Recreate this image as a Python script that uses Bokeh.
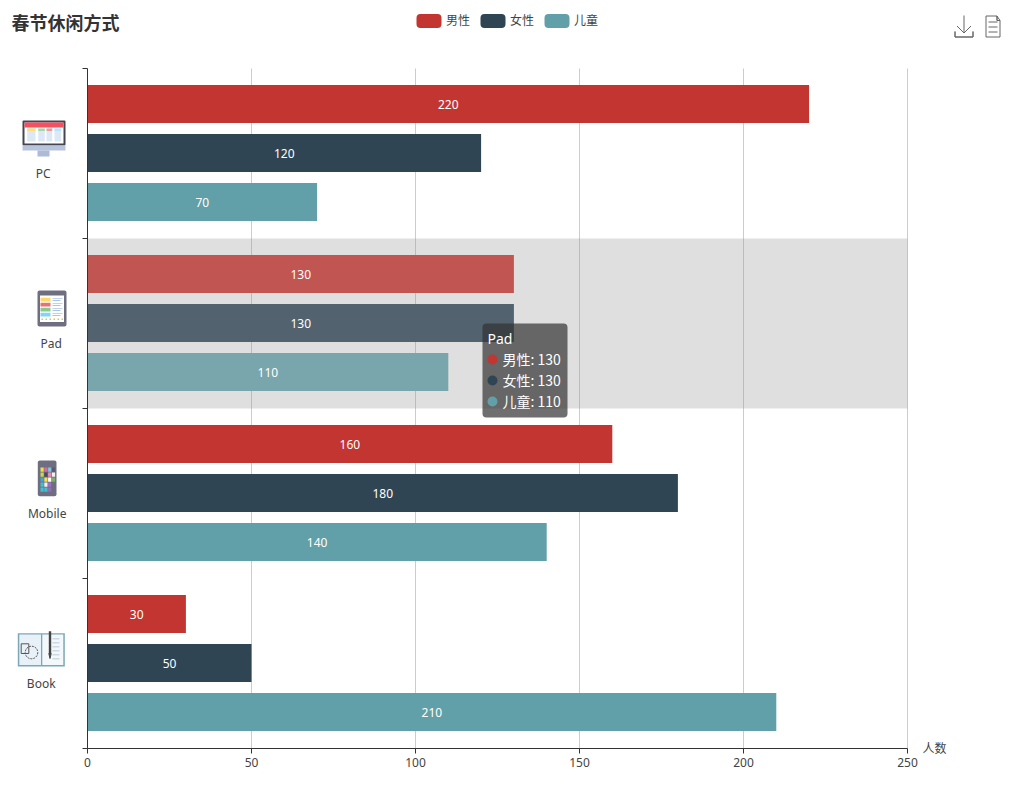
import numpy as np
from bokeh.plotting import figure
from bokeh.embed import file_html
from bokeh.resources import INLINE
from bokeh.core.properties import value
from bokeh.models import (Range1d, FixedTicker, Label, BoxAnnotation, PolyAnnotation,
                          Legend, LegendItem, ColumnDataSource)

# ---- data -------------------------------------------------------------
categories = ["PC", "Pad", "Mobile", "Book"]
male = [220, 130, 160, 30]
female = [120, 130, 180, 50]
child = [70, 110, 140, 210]
series_names = ["男性", "女性", "儿童"]
series_colors = ["#c23531", "#2f4554", "#61a0a8"]
hover_colors = ["#c15552", "#52626f", "#79a6ac"]
x_ticks = [0, 50, 100, 150, 200, 250]
title_text = "春节休闲方式"
axis_name = "人数"
hovered = "Pad"

FONT = "'Noto Sans CJK SC', 'Noto Sans', sans-serif"
LFONT = "'Noto Sans', 'Noto Sans CJK SC', sans-serif"

# page-pixel helpers for decoration; the frame fills the whole figure, axes are bounded to the data span
W, H = 1016, 780
FL, FT, FW, FH = 87, 68, 820, 680
def X(px): return (px - FL) / FW * 250
def Y(py): return 4 - (py - FT) / FH * 4

p = figure(width=W, height=H, x_range=Range1d(X(0), X(W)), y_range=Range1d(Y(H), Y(0)),
           min_border=0, output_backend="svg", toolbar_location=None, outline_line_color=None,
           background_fill_color="white", border_fill_color="white")

p.ygrid.visible = False
p.xgrid.visible = False
grid_src = ColumnDataSource(dict(x=x_ticks[1:], y0=[0] * 5, y1=[4] * 5))
p.segment(x0="x", x1="x", y0="y0", y1="y1", line_color="#cccccc", line_width=1, source=grid_src)

ax = p.xaxis[0]
ax.fixed_location = 0
ax.bounds = (0, 250)
ax.ticker = FixedTicker(ticks=x_ticks)
ax.major_tick_in = 0; ax.major_tick_out = 5; ax.minor_tick_out = 0; ax.minor_tick_in = 0
ax.axis_line_color = "#333333"; ax.major_tick_line_color = "#333333"
ax.major_label_text_color = "#444444"; ax.major_label_text_font_size = "12px"
ax.major_label_text_font = LFONT; ax.major_label_standoff = 4

ay = p.yaxis[0]
ay.fixed_location = 0
ay.bounds = (0, 4)
ay.ticker = FixedTicker(ticks=[0, 1, 2, 3, 4])
ay.major_tick_in = 0; ay.major_tick_out = 5; ay.minor_tick_out = 0; ay.minor_tick_in = 0
ay.axis_line_color = "#333333"; ay.major_tick_line_color = "#333333"
ay.major_label_overrides = {i: "" for i in range(5)}

# hover band
n = len(categories)
centers = [n - 0.5 - i for i in range(n)]
h_i = categories.index(hovered)
p.hbar(y=[centers[h_i]], left=[0], right=[250], height=1.0, fill_color="#969696",
       fill_alpha=0.3, line_color=None)

# bars
offsets = [49 / 170, 0, -49 / 170]
renderers = []
all_values = [male, female, child]
for vals, off, col, hcol in zip(all_values, offsets, series_colors, hover_colors):
    cols = [hcol if c == hovered else col for c in categories]
    src = ColumnDataSource(dict(y=[c + off for c in centers], yb=[c + off + 0.5 / 170 for c in centers],
                                v=vals, mid=[v / 2 for v in vals], col=cols, t=[str(v) for v in vals]))
    r = p.hbar(y="yb", left=0, right="v", height=38 / 170, fill_color="col", line_color=None, source=src)
    renderers.append(r)
    p.text(x="mid", y="y", text="t", text_color="white", text_font=value("Noto Sans"),
           text_font_size="12px", text_align="center", text_baseline="middle", source=src)

# legend
legend = Legend(items=[LegendItem(label=nm, renderers=[r]) for nm, r in zip(series_names, renderers)],
                orientation="horizontal", location=(416, H - 28),
                padding=0, margin=0, spacing=10, label_standoff=5,
                glyph_width=25, glyph_height=14, label_height=14, label_width=24,
                border_line_color=None, background_fill_alpha=0,
                label_text_font=FONT, label_text_font_size="12px", label_text_color="#444444",
                label_text_baseline="middle")
p.add_layout(legend, "center")

# texts placed by page pixel
def lab(text, px, py, size="12px", color="#444444", align="center", font=LFONT, style="normal"):
    p.add_layout(Label(x=X(px), y=Y(py), text=text, text_font=font, text_font_size=size,
                       text_font_style=style, text_color=color, text_align=align, text_baseline="middle"))
lab(title_text, 11, 21, size="18px", color="#333333", align="left", font=FONT, style="bold")
lab(axis_name, 934, 747, font=FONT)
for name, cx, cy in zip(categories, [42.7, 50.7, 46.7, 40.7], [172.5, 342.5, 512.5, 682.5]):
    lab(name, cx, cy)

# tooltip
p.quad(left=[X(482)], right=[X(567)], top=[Y(323)], bottom=[Y(417)], fill_color="#323232",
       fill_alpha=0.7, line_color=None, border_radius=4)
tip_vals = [v[h_i] for v in all_values]
p.scatter(x=[X(492)] * 3, y=[Y(359), Y(380), Y(401)], size=10, color=series_colors, line_color=None)
p.text(x=[X(487)], y=[Y(338)], text=[hovered], text_color="white", text_font=value("Noto Sans"),
       text_font_size="14px", text_baseline="middle")
p.text(x=[X(502)] * 3, y=[Y(358), Y(379), Y(400)],
       text=[f"{a}: {b}" for a, b in zip(series_names, tip_vals)], text_color="white",
       text_font=value("Noto Sans CJK SC"), text_font_size="14px", text_baseline="middle")

# decoration helpers (icons)
def box(x0, y0, x1, y1, color, radius=0):
    p.add_layout(BoxAnnotation(left=X(x0), right=X(x1), top=Y(y0), bottom=Y(y1), fill_color=color,
                               fill_alpha=1, line_color=None, line_alpha=0, border_radius=radius,
                               level="overlay"))
def poly(pts, fill=None, line="#666666", width=1, dash="solid"):
    p.add_layout(PolyAnnotation(xs=[X(a) for a, b in pts], ys=[Y(b) for a, b in pts],
                                fill_color=fill if fill else "white", fill_alpha=1 if fill else 0,
                                line_color=line, line_alpha=1, line_width=width, line_dash=dash,
                                level="overlay"))

# rounded legend swatches over the legend's square ones
for i, c in enumerate(series_colors):
    box(416 + 64 * i, 13.5, 441 + 64 * i, 27.5, c, 4)

# PC
box(22, 120, 65, 145, "#454552", 1)
box(24, 122, 63, 143, "#ffffff")
box(24, 122, 63, 127, "#f4505f")
for x0, x1, c in [(26.7, 35, "#ffdd77"), (37.7, 44.3, "#a5d6a7"), (46, 51.7, "#ef9a9a"), (54, 60.7, "#b3e5fc")]:
    box(x0, 128, x1, 141, "#dce8f5"); box(x0, 128, x1, 130.5, c)
box(22, 145, 65, 150, "#b8c4dc")
box(37, 150, 49, 156, "#aebbd6")

# Pad
box(37, 290, 66, 326, "#6e6e80", 2)
box(39.5, 295, 63.5, 321.5, "#ffffff")
for y0, c in [(297.3, "#ffd966"), (302.3, "#e57373"), (307.3, "#8bc78e"), (312.3, "#81d4fa")]:
    box(40, y0, 50, y0 + 3.8, c)
    box(52, y0 + 0.5, 62, y0 + 1.3, "#a9c4e8"); box(52, y0 + 2.3, 60, y0 + 3.1, "#a9c4e8")
for xx in [41, 45, 49, 53, 57, 61]:
    box(xx, 318, xx + 1.6, 319.6, "#d8c36a")

# Mobile
box(37.3, 460, 56, 495.7, "#6e6e80", 2)
tile_colors = ["#e6e04a", "#d96aa0", "#7fc6e0", "#5a5a6a",
               "#c8d848", "#4a4a5a", "#e88fb0", "#f0f0f0",
               "#3fa7d6", "#f4e04d", "#ffffff", "#7fb069",
               "#40c0d0", "#f0f0f0", "#a070c0", "#6e6e80",
               "#40c0d0", "#40c0d0", "#9070b0", "#6e6e80"]
for i, c in enumerate(tile_colors):
    col, row = i % 4, i // 4
    box(40 + col * 3.8, 467 + row * 5, 40 + col * 3.8 + 3.2, 467 + row * 5 + 4.2, c)

# Book
box(17.3, 632.7, 64.3, 666, "#7ba7b7")
box(18.8, 634, 40.5, 664.5, "#e8f1f8")
box(41.8, 634, 62.8, 664.5, "#f3f8fb")
for yy in [638, 642, 646, 650, 654, 658]:
    box(52, yy, 59, yy + 0.8, "#a8bccb")
box(48.3, 630.7, 50.7, 653, "#444444")
poly([(48.3, 653), (50.7, 653), (49.5, 658)], fill="#444444", line="#444444")
poly([(20.7, 643.3), (28.3, 643.3), (28.3, 653), (20.7, 653)], line="#555555")
th = np.linspace(0, 2 * np.pi, 24, endpoint=False)
poly(list(zip(31 + 6.3 * np.cos(th), 652 + 6.3 * np.sin(th))), line="#555555", dash="2 1")

# toolbox icons
poly([(963.5, 15), (963.5, 32)])
poly([(956.5, 25.5), (963.5, 32.5), (970.5, 25.5), (963.5, 32.5)])
poly([(954.5, 31), (954.5, 36.5), (972.5, 36.5), (972.5, 31), (972.5, 36.5), (954.5, 36.5)])
poly([(985.5, 15.5), (996.5, 15.5), (999.5, 20), (999.5, 36.5), (985.5, 36.5)])
poly([(996.5, 15.5), (996.5, 20), (999.5, 20), (996.5, 20)])
for yy in [21.5, 26.5, 31.5]:
    poly([(988, yy), (997, yy)])

open("out.html", "w").write(file_html(p, INLINE))
